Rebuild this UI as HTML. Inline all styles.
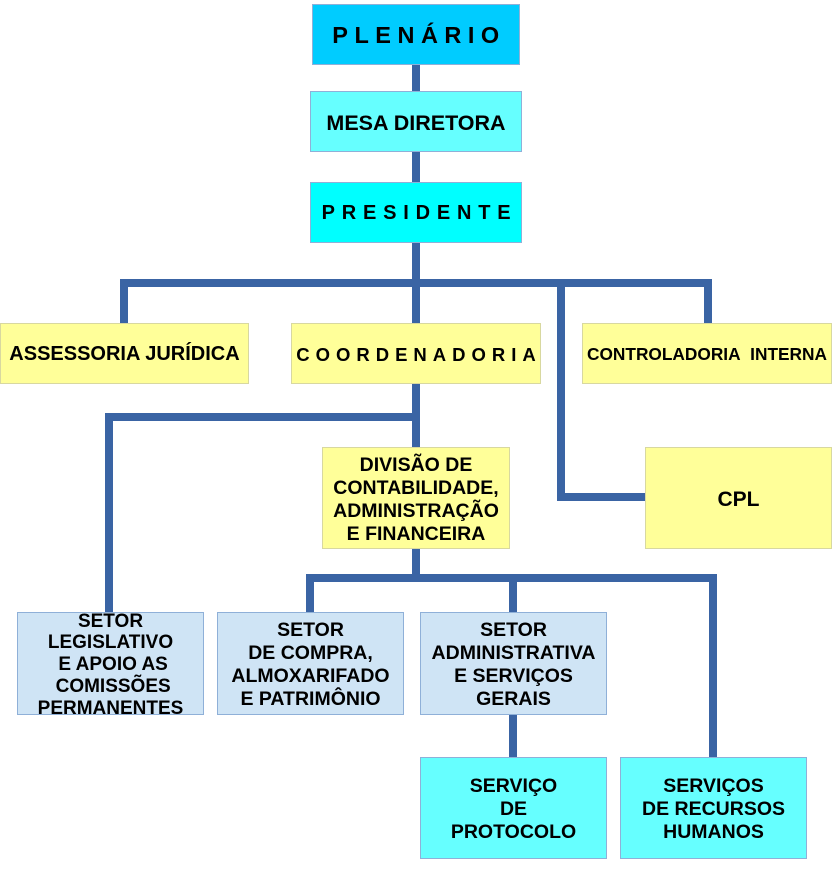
<!DOCTYPE html>
<html><head><meta charset="utf-8"><style>
body{margin:0;width:832px;height:869px;background:#fff;position:relative;overflow:hidden;font-family:"Liberation Sans",sans-serif}
.l{position:absolute;background:#3a64a4}
.b{position:absolute;box-sizing:border-box;border:1.5px solid #8fb0d8;display:flex;align-items:center;justify-content:center;text-align:center;font-weight:bold;color:#000;font-size:19.5px;line-height:23px;white-space:nowrap}
.m{padding-top:3px}
.y{background:#ffff99;border-color:#d8d8a0}
.lb{background:#cfe4f5}
.c{background:#66ffff}
</style></head><body>
<div class="l" style="left:412px;top:60px;width:8px;height:265px"></div>
<div class="l" style="left:120px;top:279px;width:592px;height:8px"></div>
<div class="l" style="left:120px;top:279px;width:8px;height:46px"></div>
<div class="l" style="left:704px;top:279px;width:8px;height:46px"></div>
<div class="l" style="left:557px;top:279px;width:8px;height:222px"></div>
<div class="l" style="left:557px;top:493px;width:90px;height:8px"></div>
<div class="l" style="left:412px;top:382px;width:8px;height:67px"></div>
<div class="l" style="left:105px;top:413px;width:315px;height:8px"></div>
<div class="l" style="left:105px;top:413px;width:8px;height:201px"></div>
<div class="l" style="left:412px;top:547px;width:8px;height:35px"></div>
<div class="l" style="left:306px;top:574px;width:411px;height:8px"></div>
<div class="l" style="left:306px;top:574px;width:8px;height:40px"></div>
<div class="l" style="left:509px;top:574px;width:8px;height:40px"></div>
<div class="l" style="left:709px;top:574px;width:8px;height:185px"></div>
<div class="l" style="left:509px;top:713px;width:8px;height:46px"></div>

<div class="b" style="left:312px;top:4px;width:208px;height:61px;background:#00ccff;font-size:23.5px;letter-spacing:6.5px;padding-left:6px;padding-top:2px">PLENÁRIO</div>
<div class="b" style="left:310px;top:91px;width:212px;height:61px;background:#66ffff;font-size:21.5px;padding-top:3px">MESA DIRETORA</div>
<div class="b" style="left:310px;top:182px;width:212px;height:61px;background:#00ffff;font-size:20px;letter-spacing:6.8px;padding-left:7px;padding-top:2px">PRESIDENTE</div>
<div class="b y" style="left:0;top:323px;width:249px;height:61px;font-size:20px;padding-top:2px">ASSESSORIA JURÍDICA</div>
<div class="b y" style="left:291px;top:323px;width:250px;height:61px;font-size:18.5px;letter-spacing:6px;padding-left:6px;padding-top:2px">COORDENADORIA</div>
<div class="b y" style="left:582px;top:323px;width:250px;height:61px;font-size:17.3px;padding-top:2px">CONTROLADORIA&nbsp; INTERNA</div>
<div class="b y m" style="left:322px;top:447px;width:188px;height:102px">DIVISÃO DE<br>CONTABILIDADE,<br>ADMINISTRAÇÃO<br>E FINANCEIRA</div>
<div class="b y m" style="left:645px;top:447px;width:187px;height:102px;font-size:21px">CPL</div>
<div class="b lb m" style="left:17px;top:612px;width:187px;height:103px;font-size:19px;line-height:21.8px">SETOR<br>LEGISLATIVO<br>&nbsp;E APOIO AS<br>&nbsp;COMISSÕES<br>PERMANENTES</div>
<div class="b lb m" style="left:217px;top:612px;width:187px;height:103px">SETOR<br>DE COMPRA,<br>ALMOXARIFADO<br>E PATRIMÔNIO</div>
<div class="b lb m" style="left:420px;top:612px;width:187px;height:103px">SETOR<br>ADMINISTRATIVA<br>E SERVIÇOS<br>GERAIS</div>
<div class="b c m" style="left:420px;top:757px;width:187px;height:102px">SERVIÇO<br>DE<br>PROTOCOLO</div>
<div class="b c m" style="left:620px;top:757px;width:187px;height:102px">SERVIÇOS<br>DE RECURSOS<br>HUMANOS</div>
</body></html>
